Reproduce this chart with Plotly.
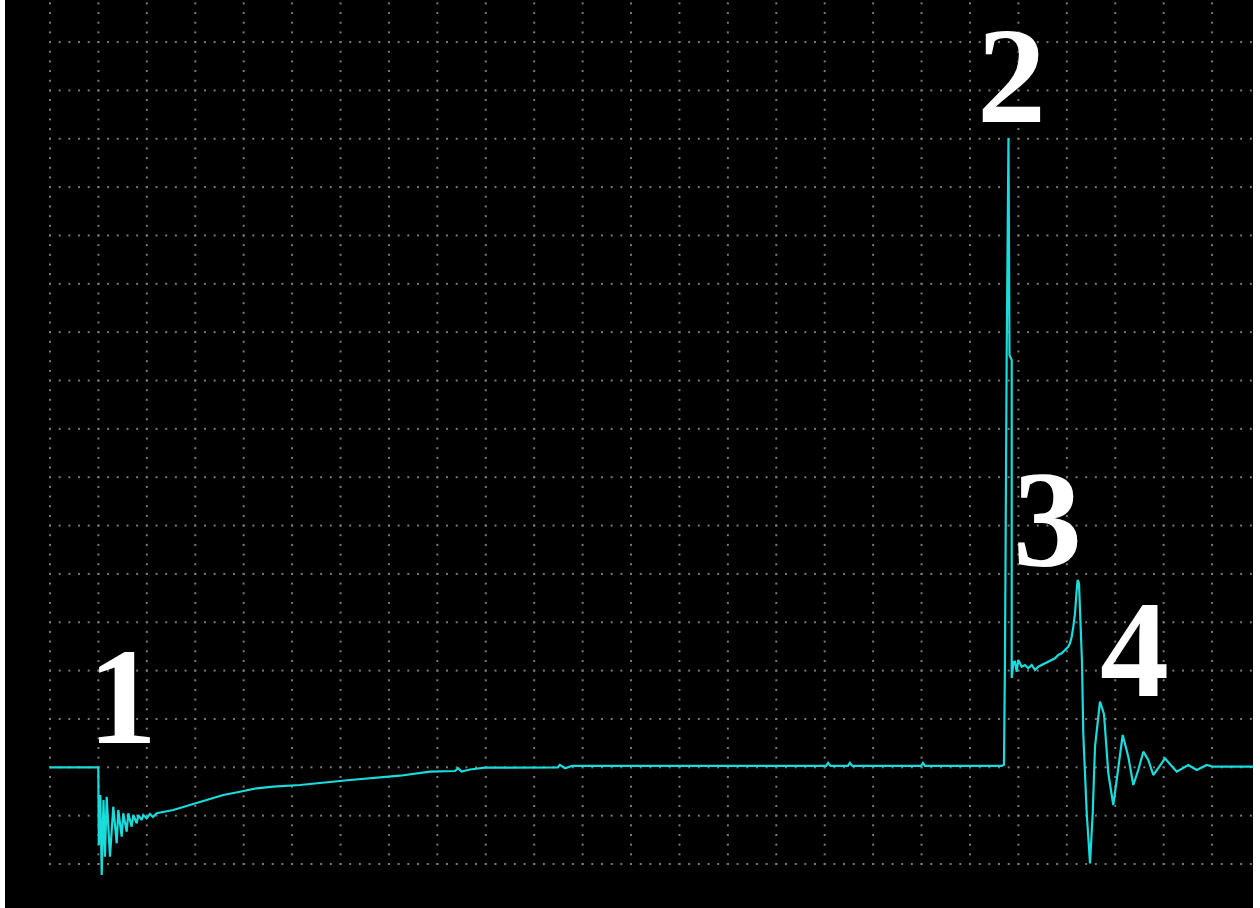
import numpy as np
import plotly.graph_objects as go

# Time axis in screen divisions, amplitude in vertical divisions (0 = rest level)
time_div = [
    0.0, 0.998, 1.008, 1.040, 1.068, 1.105, 1.136, 1.171, 1.239, 1.307,
    1.378, 1.411, 1.481, 1.514, 1.584, 1.617, 1.687, 1.720, 1.791, 1.824,
    1.894, 1.927, 1.997, 2.065, 2.127, 2.204, 2.546, 2.891, 3.236, 3.579,
    3.924, 4.269, 4.612, 5.163, 6.196, 7.228, 7.848, 8.364, 8.43, 8.50,
    8.674, 8.984, 10.49, 10.53, 10.64, 10.78, 16.03, 16.07, 16.12, 16.48,
    16.52, 16.57, 17.99, 18.03, 18.07, 19.655, 19.702, 19.722, 19.758, 19.795,
    19.816, 19.862, 19.862, 19.899, 19.930, 19.965, 19.998, 20.068, 20.136, 20.204,
    20.275, 20.343, 20.411, 20.481, 20.549, 20.618, 20.688, 20.756, 20.824, 20.894,
    20.962, 21.030, 21.065, 21.101, 21.134, 21.169, 21.204, 21.224, 21.251, 21.272,
    21.293, 21.313, 21.340, 21.375, 21.411, 21.479, 21.535, 21.582, 21.685, 21.768,
    21.857, 21.960, 22.043, 22.154, 22.270, 22.373, 22.476, 22.580, 22.683, 22.786,
    22.910, 23.028, 23.146, 23.270, 23.509, 23.683, 23.889, 24.025, 24.851,
]
volt_div = [
    0.0, 0.0, -1.607, -0.573, -2.228, -0.676, -1.849, -0.608, -1.849, -0.815,
    -1.572, -0.883, -1.435, -0.951, -1.332, -0.951, -1.229, -0.987, -1.158, -0.987,
    -1.090, -0.987, -1.055, -0.966, -1.028, -0.951, -0.883, -0.780, -0.676, -0.573,
    -0.505, -0.434, -0.401, -0.366, -0.263, -0.174, -0.091, -0.077, -0.02, -0.09,
    -0.046, -0.008, 0.0, 0.05, -0.02, 0.03, 0.03, 0.09, 0.03, 0.03,
    0.09, 0.03, 0.03, 0.09, 0.03, 0.03, 0.05, 2.157, 8.527, 13.01,
    8.527, 8.424, 1.847, 2.178, 2.184, 1.977, 2.219, 2.081, 2.116, 2.048,
    2.116, 2.012, 2.081, 2.116, 2.151, 2.184, 2.219, 2.254, 2.323, 2.358,
    2.426, 2.494, 2.565, 2.701, 2.908, 3.185, 3.667, 3.874, 3.806, 3.322,
    2.840, 2.184, 0.703, -0.263, -0.951, -1.986, -0.945, 0.426, 1.357, 1.100,
    -0.124, -0.780, -0.124, 0.668, 0.219, -0.366, -0.056, 0.323, 0.151, -0.159,
    0.012, 0.186, 0.048, -0.091, 0.048, -0.056, 0.048, 0.012, 0.012,
]

# Event markers
event_labels = ["1", "2", "3", "4"]
event_x = [1.50, 19.86, 20.60, 22.39]
event_y = [1.47, 14.30, 5.12, 2.44]

X_RANGE = [-0.929, 24.845]
Y_RANGE = [-2.91, 15.87]

# Dotted graticule: dots every 1/5 division along each major line
gx, gy = [], []
sub = np.round(np.arange(0, 24.85, 0.2), 3)
for yl in range(-2, 16):
    gx.extend(sub)
    gy.extend([yl] * len(sub))
vsub = np.round(np.arange(-2, 15.85, 0.2), 3)
for xl in range(0, 25):
    gx.extend([xl] * len(vsub))
    gy.extend(vsub)

fig = go.Figure()
fig.add_trace(go.Scatter(
    x=gx, y=gy, mode="markers",
    marker=dict(symbol="square", size=2, color="#7a7a7a", line=dict(width=0)),
    hoverinfo="skip", showlegend=False,
))
fig.add_trace(go.Scatter(
    x=time_div, y=volt_div, mode="lines",
    line=dict(color="#19dcdc", width=2.2),
    hoverinfo="skip", showlegend=False,
))

for lab, xv, yv in zip(event_labels, event_x, event_y):
    fig.add_annotation(
        x=xv, y=yv, text=lab, showarrow=False,
        xanchor="center", yanchor="middle",
        font=dict(family="Liberation Serif", size=138, color="white", weight="bold"),
    )

fig.update_layout(
    width=1260, height=908, autosize=False,
    margin=dict(l=5, r=7, t=0, b=0, pad=0),
    paper_bgcolor="white", plot_bgcolor="black",
    xaxis=dict(range=X_RANGE, showgrid=False, zeroline=False, showticklabels=False,
               showline=False, ticks="", fixedrange=True),
    yaxis=dict(range=Y_RANGE, showgrid=False, zeroline=False, showticklabels=False,
               showline=False, ticks="", fixedrange=True),
)

fig.write_html("out.html")
